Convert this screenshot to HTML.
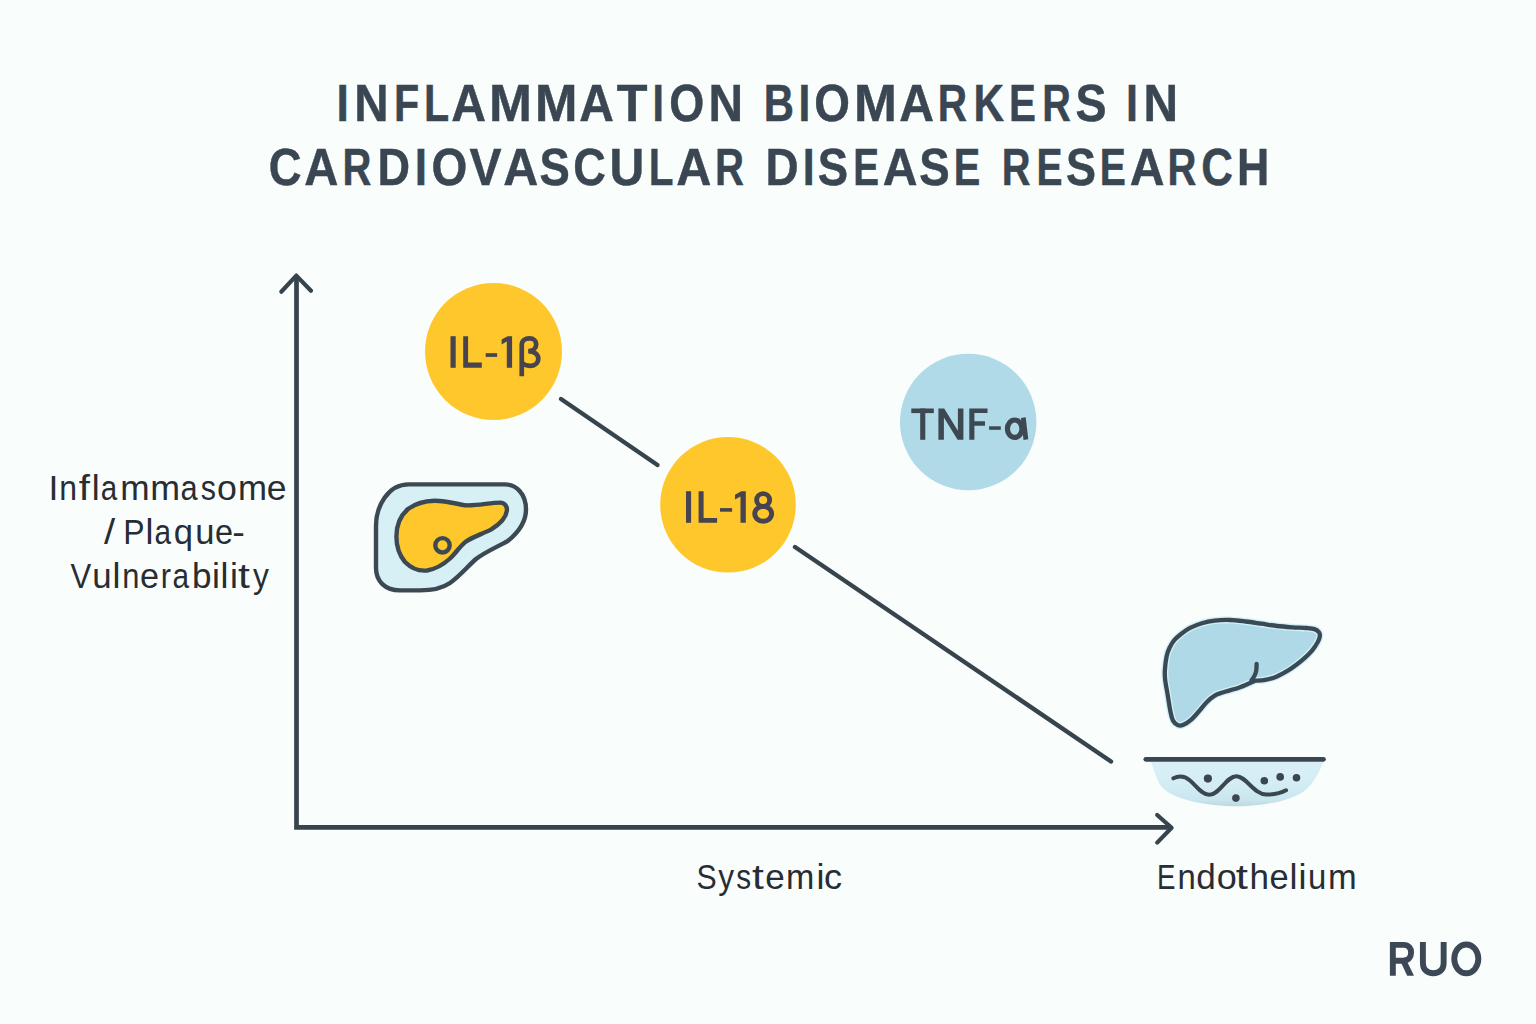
<!DOCTYPE html>
<html>
<head>
<meta charset="utf-8">
<style>
html,body{margin:0;padding:0;background:#F9FDFC;}
body{width:1536px;height:1024px;overflow:hidden;}
svg{display:block;}
text{font-family:"Liberation Sans",sans-serif;}
</style>
</head>
<body>
<svg width="1536" height="1024" viewBox="0 0 1536 1024">
  <rect x="0" y="0" width="1536" height="1024" fill="#F9FDFC"/>

  <!-- Axes -->
  <g stroke="#37434D" fill="none">
    <path d="M296.5 277 L296.5 827.4 L1170 827.4" stroke-width="4.7" stroke-linejoin="miter" stroke-linecap="butt"/>
    <path d="M281.3 291.8 L296.3 275.6 L311 290.8" stroke-width="4.2" stroke-linecap="round" stroke-linejoin="round"/>
    <path d="M1157.2 815 L1171.6 827.8 L1157.2 842.6" stroke-width="4.2" stroke-linecap="round" stroke-linejoin="round"/>
  </g>

  <!-- connecting lines -->
  <g stroke="#37434D" stroke-width="4.4" stroke-linecap="round">
    <line x1="561" y1="399" x2="657.5" y2="465"/>
    <line x1="795" y1="547" x2="1111" y2="761.5"/>
  </g>

  <!-- circles -->
  <circle cx="493.5" cy="351.5" r="68.5" fill="#FEC82C"/>
  <circle cx="728" cy="504.8" r="67.8" fill="#FEC82C"/>
  <circle cx="968.2" cy="422" r="68.2" fill="#B0DAE7"/>

  <!-- circle labels (drawn glyphs) -->
  <g fill="#47434F">
    <rect x="450.5" y="336.2" width="5.2" height="31.6"/>
    <path d="M463.2 336.2 H468.1 V362.6 H481.8 V367.8 H463.2 Z"/>
    <rect x="485.7" y="353.2" width="11.4" height="3.7"/>
    <path d="M512.1 336.2 V367.8 H506.8 V341.6 L501.6 344.5 V339.6 L507.6 336.2 Z"/>
  </g>
  <path fill="none" stroke="#47434F" stroke-width="4.7" d="M521.75 376.3 V345 C521.75 340.5 525 338.45 529.5 338.45 C533.8 338.45 536.2 341 536.2 344.2 C536.2 348.2 533 351.2 528.2 351.2 C534.5 351.2 538.3 354.5 538.3 358.5 C538.3 363 534.5 365.8 530 365.8 C526.5 365.8 523.5 364.5 521.75 362.5"/>
  <g fill="#47434F">
    <rect x="686" y="491.2" width="5.1" height="31.6"/>
    <path d="M698.6 491.2 H703.6 V517.9 H717.1 V522.8 H698.6 Z"/>
    <rect x="720" y="508.1" width="12.1" height="3.6"/>
    <path d="M745.8 491.2 V522.8 H740.5 V496.4 L735 499.4 V494.8 L741.2 491.2 Z"/>
  </g>
  <g fill="none" stroke="#47434F" stroke-width="4.9">
    <ellipse cx="763.15" cy="500" rx="6.5" ry="6.35"/>
    <ellipse cx="763.2" cy="513.8" rx="8.45" ry="7.45"/>
  </g>
  <g fill="#3D4853">
    <rect x="911.3" y="408.5" width="22.5" height="4.6"/>
    <rect x="920.2" y="408.5" width="5.1" height="31.3"/>
    <path d="M938.4 439.8 V408.5 H944.2 L957.9 430.8 V408.5 H963.4 V439.8 H957.6 L943.9 417.5 V439.8 Z"/>
    <path d="M969.3 408.5 H987.5 V413.1 H974.4 V421.2 H985 V425.8 H974.4 V439.8 H969.3 Z"/>
    <rect x="989.1" y="426.3" width="11.7" height="3.5"/>
  </g>
  <g fill="none" stroke="#3D4853">
    <ellipse cx="1014.7" cy="428.7" rx="7.3" ry="8.7" stroke-width="5.2"/>
    <line x1="1023.3" y1="417.6" x2="1025.9" y2="439.6" stroke-width="4.8"/>
  </g>

  <!-- RUO -->
  <g fill="none" stroke="#3C4856" stroke-width="5.9">
    <path d="M1392.85 975.8 V944.85 H1403.5 C1409 944.85 1411.1 948.5 1411.1 952.6 C1411.1 957 1408.5 960.75 1403 960.75 H1393"/>
    <path d="M1422.9 941.9 V963 C1422.9 969.8 1427.2 973.25 1433.3 973.25 C1439.4 973.25 1443.65 969.8 1443.65 963 V941.9"/>
    <ellipse cx="1466.3" cy="958.85" rx="12.05" ry="14.4"/>
  </g>
  <path fill="#3C4856" d="M1400.3 961 H1406.8 L1414 975.8 H1407.2 Z"/>

  <g font-weight="bold" fill="#3A4652" stroke="#3A4652" stroke-width="0.45">
    <text x="336.61" y="120.5" font-size="51.5" textLength="12.34" lengthAdjust="spacingAndGlyphs">I</text>
    <text x="354.33" y="120.5" font-size="51.5" textLength="34.32" lengthAdjust="spacingAndGlyphs">N</text>
    <text x="394.0" y="120.5" font-size="51.5" textLength="25.18" lengthAdjust="spacingAndGlyphs">F</text>
    <text x="423.9" y="120.5" font-size="51.5" textLength="25.17" lengthAdjust="spacingAndGlyphs">L</text>
    <text x="451.37" y="120.5" font-size="51.5" textLength="34.76" lengthAdjust="spacingAndGlyphs">A</text>
    <text x="488.9" y="120.5" font-size="51.5" textLength="42.91" lengthAdjust="spacingAndGlyphs">M</text>
    <text x="534.93" y="120.5" font-size="51.5" textLength="42.43" lengthAdjust="spacingAndGlyphs">M</text>
    <text x="579.27" y="120.5" font-size="51.5" textLength="34.65" lengthAdjust="spacingAndGlyphs">A</text>
    <text x="616.82" y="120.5" font-size="51.5" textLength="30.73" lengthAdjust="spacingAndGlyphs">T</text>
    <text x="652.5" y="120.5" font-size="51.5" textLength="11.45" lengthAdjust="spacingAndGlyphs">I</text>
    <text x="669.25" y="120.5" font-size="51.5" textLength="35.05" lengthAdjust="spacingAndGlyphs">O</text>
    <text x="708.61" y="120.5" font-size="51.5" textLength="34.56" lengthAdjust="spacingAndGlyphs">N</text>
    <text x="763.76" y="120.5" font-size="51.5" textLength="30.23" lengthAdjust="spacingAndGlyphs">B</text>
    <text x="798.62" y="120.5" font-size="51.5" textLength="11.81" lengthAdjust="spacingAndGlyphs">I</text>
    <text x="814.22" y="120.5" font-size="51.5" textLength="35.72" lengthAdjust="spacingAndGlyphs">O</text>
    <text x="854.0" y="120.5" font-size="51.5" textLength="42.91" lengthAdjust="spacingAndGlyphs">M</text>
    <text x="899.17" y="120.5" font-size="51.5" textLength="34.76" lengthAdjust="spacingAndGlyphs">A</text>
    <text x="937.64" y="120.5" font-size="51.5" textLength="29.31" lengthAdjust="spacingAndGlyphs">R</text>
    <text x="973.54" y="120.5" font-size="51.5" textLength="30.55" lengthAdjust="spacingAndGlyphs">K</text>
    <text x="1009.05" y="120.5" font-size="51.5" textLength="26.9" lengthAdjust="spacingAndGlyphs">E</text>
    <text x="1042.29" y="120.5" font-size="51.5" textLength="28.64" lengthAdjust="spacingAndGlyphs">R</text>
    <text x="1075.39" y="120.5" font-size="51.5" textLength="31.04" lengthAdjust="spacingAndGlyphs">S</text>
    <text x="1126.09" y="120.5" font-size="51.5" textLength="11.99" lengthAdjust="spacingAndGlyphs">I</text>
    <text x="1143.51" y="120.5" font-size="51.5" textLength="34.56" lengthAdjust="spacingAndGlyphs">N</text>
    <text x="268.75" y="185.2" font-size="52" textLength="32.81" lengthAdjust="spacingAndGlyphs">C</text>
    <text x="304.19" y="185.2" font-size="52" textLength="34.13" lengthAdjust="spacingAndGlyphs">A</text>
    <text x="342.39" y="185.2" font-size="52" textLength="28.91" lengthAdjust="spacingAndGlyphs">R</text>
    <text x="377.5" y="185.2" font-size="52" textLength="32.52" lengthAdjust="spacingAndGlyphs">D</text>
    <text x="414.65" y="185.2" font-size="52" textLength="12.29" lengthAdjust="spacingAndGlyphs">I</text>
    <text x="431.43" y="185.2" font-size="52" textLength="35.85" lengthAdjust="spacingAndGlyphs">O</text>
    <text x="469.38" y="185.2" font-size="52" textLength="32.06" lengthAdjust="spacingAndGlyphs">V</text>
    <text x="503.17" y="185.2" font-size="52" textLength="34.99" lengthAdjust="spacingAndGlyphs">A</text>
    <text x="539.45" y="185.2" font-size="52" textLength="30.32" lengthAdjust="spacingAndGlyphs">S</text>
    <text x="573.36" y="185.2" font-size="52" textLength="32.59" lengthAdjust="spacingAndGlyphs">C</text>
    <text x="609.62" y="185.2" font-size="52" textLength="34.78" lengthAdjust="spacingAndGlyphs">U</text>
    <text x="648.77" y="185.2" font-size="52" textLength="24.71" lengthAdjust="spacingAndGlyphs">L</text>
    <text x="676.37" y="185.2" font-size="52" textLength="35.09" lengthAdjust="spacingAndGlyphs">A</text>
    <text x="714.88" y="185.2" font-size="52" textLength="29.03" lengthAdjust="spacingAndGlyphs">R</text>
    <text x="765.46" y="185.2" font-size="52" textLength="33.1" lengthAdjust="spacingAndGlyphs">D</text>
    <text x="802.73" y="185.2" font-size="52" textLength="11.92" lengthAdjust="spacingAndGlyphs">I</text>
    <text x="817.85" y="185.2" font-size="52" textLength="30.32" lengthAdjust="spacingAndGlyphs">S</text>
    <text x="853.17" y="185.2" font-size="52" textLength="25.78" lengthAdjust="spacingAndGlyphs">E</text>
    <text x="882.87" y="185.2" font-size="52" textLength="34.77" lengthAdjust="spacingAndGlyphs">A</text>
    <text x="919.35" y="185.2" font-size="52" textLength="30.44" lengthAdjust="spacingAndGlyphs">S</text>
    <text x="953.71" y="185.2" font-size="52" textLength="26.48" lengthAdjust="spacingAndGlyphs">E</text>
    <text x="1001.7" y="185.2" font-size="52" textLength="28.8" lengthAdjust="spacingAndGlyphs">R</text>
    <text x="1036.45" y="185.2" font-size="52" textLength="26.02" lengthAdjust="spacingAndGlyphs">E</text>
    <text x="1066.07" y="185.2" font-size="52" textLength="29.99" lengthAdjust="spacingAndGlyphs">S</text>
    <text x="1099.84" y="185.2" font-size="52" textLength="26.13" lengthAdjust="spacingAndGlyphs">E</text>
    <text x="1129.67" y="185.2" font-size="52" textLength="34.77" lengthAdjust="spacingAndGlyphs">A</text>
    <text x="1167.49" y="185.2" font-size="52" textLength="28.91" lengthAdjust="spacingAndGlyphs">R</text>
    <text x="1201.31" y="185.2" font-size="52" textLength="31.71" lengthAdjust="spacingAndGlyphs">C</text>
    <text x="1236.93" y="185.2" font-size="52" textLength="32.23" lengthAdjust="spacingAndGlyphs">H</text>
  </g>
  <g fill="#282D33">
    <text x="48.55" y="499.7" font-size="35.5" textLength="9.88" lengthAdjust="spacingAndGlyphs">I</text>
    <text x="59.3" y="499.7" font-size="35.5" textLength="17.77" lengthAdjust="spacingAndGlyphs">n</text>
    <text x="78.87" y="499.7" font-size="35.5" textLength="11.19" lengthAdjust="spacingAndGlyphs">f</text>
    <text x="91.65" y="499.7" font-size="35.5" textLength="7.89" lengthAdjust="spacingAndGlyphs">l</text>
    <text x="100.73" y="499.7" font-size="35.5" textLength="16.46" lengthAdjust="spacingAndGlyphs">a</text>
    <text x="120.32" y="499.7" font-size="35.5" textLength="29.34" lengthAdjust="spacingAndGlyphs">m</text>
    <text x="150.38" y="499.7" font-size="35.5" textLength="29.81" lengthAdjust="spacingAndGlyphs">m</text>
    <text x="180.57" y="499.7" font-size="35.5" textLength="17.12" lengthAdjust="spacingAndGlyphs">a</text>
    <text x="200.74" y="499.7" font-size="35.5" textLength="15.2" lengthAdjust="spacingAndGlyphs">s</text>
    <text x="217.09" y="499.7" font-size="35.5" textLength="19.87" lengthAdjust="spacingAndGlyphs">o</text>
    <text x="237.94" y="499.7" font-size="35.5" textLength="28.99" lengthAdjust="spacingAndGlyphs">m</text>
    <text x="266.7" y="499.7" font-size="35.5" textLength="19.75" lengthAdjust="spacingAndGlyphs">e</text>
    <text x="104.1" y="543.7" font-size="35.5" textLength="11.16" lengthAdjust="spacingAndGlyphs">/</text>
    <text x="123.2" y="543.7" font-size="35.5" textLength="21.32" lengthAdjust="spacingAndGlyphs">P</text>
    <text x="145.45" y="543.7" font-size="35.5" textLength="7.89" lengthAdjust="spacingAndGlyphs">l</text>
    <text x="154.52" y="543.7" font-size="35.5" textLength="16.57" lengthAdjust="spacingAndGlyphs">a</text>
    <text x="173.75" y="543.7" font-size="35.5" textLength="19.26" lengthAdjust="spacingAndGlyphs">q</text>
    <text x="195.25" y="543.7" font-size="35.5" textLength="19.22" lengthAdjust="spacingAndGlyphs">u</text>
    <text x="214.88" y="543.7" font-size="35.5" textLength="18.02" lengthAdjust="spacingAndGlyphs">e</text>
    <text x="232.18" y="543.7" font-size="35.5" textLength="12.57" lengthAdjust="spacingAndGlyphs">-</text>
    <text x="70.5" y="587.9" font-size="35.5" textLength="20.7" lengthAdjust="spacingAndGlyphs">V</text>
    <text x="92.14" y="587.9" font-size="35.5" textLength="19.36" lengthAdjust="spacingAndGlyphs">u</text>
    <text x="112.5" y="587.9" font-size="35.5" textLength="7.89" lengthAdjust="spacingAndGlyphs">l</text>
    <text x="122.16" y="587.9" font-size="35.5" textLength="17.16" lengthAdjust="spacingAndGlyphs">n</text>
    <text x="139.88" y="587.9" font-size="35.5" textLength="19.01" lengthAdjust="spacingAndGlyphs">e</text>
    <text x="160.87" y="587.9" font-size="35.5" textLength="10.25" lengthAdjust="spacingAndGlyphs">r</text>
    <text x="172.62" y="587.9" font-size="35.5" textLength="16.57" lengthAdjust="spacingAndGlyphs">a</text>
    <text x="192.03" y="587.9" font-size="35.5" textLength="19.5" lengthAdjust="spacingAndGlyphs">b</text>
    <text x="212.05" y="587.9" font-size="35.5" textLength="7.89" lengthAdjust="spacingAndGlyphs">i</text>
    <text x="220.45" y="587.9" font-size="35.5" textLength="7.89" lengthAdjust="spacingAndGlyphs">l</text>
    <text x="229.95" y="587.9" font-size="35.5" textLength="7.89" lengthAdjust="spacingAndGlyphs">i</text>
    <text x="237.9" y="587.9" font-size="35.5" textLength="11.85" lengthAdjust="spacingAndGlyphs">t</text>
    <text x="253.1" y="587.9" font-size="35.5" textLength="15.88" lengthAdjust="spacingAndGlyphs">y</text>
    <text x="696.51" y="888.9" font-size="35.8" textLength="20.19" lengthAdjust="spacingAndGlyphs">S</text>
    <text x="718.2" y="888.9" font-size="35.8" textLength="15.82" lengthAdjust="spacingAndGlyphs">y</text>
    <text x="736.37" y="888.9" font-size="35.8" textLength="14.88" lengthAdjust="spacingAndGlyphs">s</text>
    <text x="751.91" y="888.9" font-size="35.8" textLength="11.83" lengthAdjust="spacingAndGlyphs">t</text>
    <text x="765.14" y="888.9" font-size="35.8" textLength="19.49" lengthAdjust="spacingAndGlyphs">e</text>
    <text x="786.1" y="888.9" font-size="35.8" textLength="28.34" lengthAdjust="spacingAndGlyphs">m</text>
    <text x="816.5" y="888.9" font-size="35.8" textLength="7.95" lengthAdjust="spacingAndGlyphs">i</text>
    <text x="823.99" y="888.9" font-size="35.8" textLength="18.03" lengthAdjust="spacingAndGlyphs">c</text>
    <text x="1157.08" y="889.1" font-size="35.8" textLength="18.48" lengthAdjust="spacingAndGlyphs">E</text>
    <text x="1177.46" y="889.1" font-size="35.8" textLength="18.3" lengthAdjust="spacingAndGlyphs">n</text>
    <text x="1196.14" y="889.1" font-size="35.8" textLength="19.55" lengthAdjust="spacingAndGlyphs">d</text>
    <text x="1216.89" y="889.1" font-size="35.8" textLength="20.05" lengthAdjust="spacingAndGlyphs">o</text>
    <text x="1235.78" y="889.1" font-size="35.8" textLength="12.16" lengthAdjust="spacingAndGlyphs">t</text>
    <text x="1249.56" y="889.1" font-size="35.8" textLength="19.52" lengthAdjust="spacingAndGlyphs">h</text>
    <text x="1269.58" y="889.1" font-size="35.8" textLength="19.17" lengthAdjust="spacingAndGlyphs">e</text>
    <text x="1289.5" y="889.1" font-size="35.8" textLength="7.95" lengthAdjust="spacingAndGlyphs">l</text>
    <text x="1298.55" y="889.1" font-size="35.8" textLength="7.95" lengthAdjust="spacingAndGlyphs">i</text>
    <text x="1307.96" y="889.1" font-size="35.8" textLength="18.3" lengthAdjust="spacingAndGlyphs">u</text>
    <text x="1327.98" y="889.1" font-size="35.8" textLength="28.68" lengthAdjust="spacingAndGlyphs">m</text>
  </g>
  <!-- plaque icon -->
  <g stroke="#3C4952" stroke-width="4.4" stroke-linejoin="round">
    <path fill="#D6F0F6" d="M408.7 484.4 L505 484.4 C516 484.4 526 493.5 526 509.5 C526 521 520 531 508 540.8 C497 547 485 552 476 559 C468 566 460 576 450 583 C442 588.5 432 590.4 420 590.4 L400 590.4 C385 590.4 376 581 376 568 L376 526 C376 506 388 484.4 408.7 484.4 Z"/>
    <path fill="#FEC82C" d="M396.4 536.6 C396.4 524 401 515 408 509 C415 504 424 501 434.4 500.8 C445 500.6 455 503.5 465.2 505.3 C477 506 490 502.6 500.3 502.6 C505 502.6 507.5 507 506.8 511 C506 518 500 524 490.9 529.6 C482 534 472 537.5 466.3 541.3 C460 546 456 553 450 558.5 C444 564 436 569 427 570.5 C418 571.5 410 567 405 562 C399 555 396.4 546 396.4 536.6 Z"/>
    <circle cx="442.5" cy="545.3" r="7.2" fill="#FEC82C"/>
  </g>

  <!-- liver -->
  <g stroke="#3A4A55" stroke-width="4.3" stroke-linejoin="round" stroke-linecap="round">
    <path fill="#AFD9E6" stroke="#D3EFF7" stroke-width="7" d="M1255 680.7 C1252.5 681.8 1245.42 685.33 1240 687.3 C1234.58 689.27 1226.72 691.12 1222.5 692.5 C1218.28 693.88 1217.3 694.03 1214.7 695.6 C1212.1 697.17 1209.52 699.29 1206.9 701.9 C1204.28 704.51 1201.61 708.3 1199 711.25 C1196.39 714.2 1193.85 717.34 1191.25 719.6 C1188.65 721.86 1185.58 723.85 1183.4 724.8 C1181.23 725.75 1179.93 726 1178.2 725.3 C1176.47 724.6 1174.3 722.94 1173 720.6 C1171.7 718.26 1171.27 715.42 1170.4 711.25 C1169.53 707.08 1168.67 700.81 1167.8 695.6 C1166.93 690.39 1165.68 684.27 1165.2 680 C1164.72 675.73 1164.65 674 1164.9 670 C1165.15 666 1165.92 659.7 1166.7 656 C1167.48 652.3 1168.33 650.43 1169.6 647.8 C1170.87 645.17 1172.33 642.55 1174.3 640.2 C1176.27 637.85 1178.77 635.75 1181.4 633.7 C1184.03 631.65 1186.68 629.65 1190.1 627.9 C1193.52 626.15 1197.78 624.42 1201.9 623.2 C1206.02 621.98 1210.12 621.13 1214.8 620.6 C1219.48 620.07 1224.87 619.85 1230 620 C1235.13 620.15 1240.39 620.88 1245.6 621.5 C1250.81 622.12 1256.03 622.95 1261.25 623.7 C1266.47 624.45 1271.69 625.4 1276.9 626 C1282.11 626.6 1287.65 626.97 1292.5 627.3 C1297.35 627.63 1302.35 627.7 1306 628 C1309.65 628.3 1312.23 628.38 1314.4 629.1 C1316.57 629.82 1318.1 631.1 1319 632.3 C1319.9 633.5 1320 634.68 1319.8 636.3 C1319.6 637.92 1319.1 639.62 1317.8 642 C1316.5 644.38 1314.27 647.87 1312 650.6 C1309.73 653.33 1306.8 656.05 1304.2 658.4 C1301.6 660.75 1299 662.73 1296.4 664.7 C1293.8 666.67 1291.85 668.25 1288.6 670.2 C1285.35 672.15 1280.8 674.78 1276.9 676.4 C1273 678.02 1268.85 679.18 1265.2 679.9 C1261.55 680.62 1256.7 680.57 1255 680.7 Z"/>
    <path fill="none" d="M1255 680.7 C1252.5 681.8 1245.42 685.33 1240 687.3 C1234.58 689.27 1226.72 691.12 1222.5 692.5 C1218.28 693.88 1217.3 694.03 1214.7 695.6 C1212.1 697.17 1209.52 699.29 1206.9 701.9 C1204.28 704.51 1201.61 708.3 1199 711.25 C1196.39 714.2 1193.85 717.34 1191.25 719.6 C1188.65 721.86 1185.58 723.85 1183.4 724.8 C1181.23 725.75 1179.93 726 1178.2 725.3 C1176.47 724.6 1174.3 722.94 1173 720.6 C1171.7 718.26 1171.27 715.42 1170.4 711.25 C1169.53 707.08 1168.67 700.81 1167.8 695.6 C1166.93 690.39 1165.68 684.27 1165.2 680 C1164.72 675.73 1164.65 674 1164.9 670 C1165.15 666 1165.92 659.7 1166.7 656 C1167.48 652.3 1168.33 650.43 1169.6 647.8 C1170.87 645.17 1172.33 642.55 1174.3 640.2 C1176.27 637.85 1178.77 635.75 1181.4 633.7 C1184.03 631.65 1186.68 629.65 1190.1 627.9 C1193.52 626.15 1197.78 624.42 1201.9 623.2 C1206.02 621.98 1210.12 621.13 1214.8 620.6 C1219.48 620.07 1224.87 619.85 1230 620 C1235.13 620.15 1240.39 620.88 1245.6 621.5 C1250.81 622.12 1256.03 622.95 1261.25 623.7 C1266.47 624.45 1271.69 625.4 1276.9 626 C1282.11 626.6 1287.65 626.97 1292.5 627.3 C1297.35 627.63 1302.35 627.7 1306 628 C1309.65 628.3 1312.23 628.38 1314.4 629.1 C1316.57 629.82 1318.1 631.1 1319 632.3 C1319.9 633.5 1320 634.68 1319.8 636.3 C1319.6 637.92 1319.1 639.62 1317.8 642 C1316.5 644.38 1314.27 647.87 1312 650.6 C1309.73 653.33 1306.8 656.05 1304.2 658.4 C1301.6 660.75 1299 662.73 1296.4 664.7 C1293.8 666.67 1291.85 668.25 1288.6 670.2 C1285.35 672.15 1280.8 674.78 1276.9 676.4 C1273 678.02 1268.85 679.18 1265.2 679.9 C1261.55 680.62 1256.7 680.57 1255 680.7 Z"/>
    <path fill="none" d="M1256.6 663.9 C1256.53 665.07 1256.6 668.82 1256.2 670.9 C1255.8 672.98 1255.02 674.78 1254.2 676.4 C1253.38 678.02 1251.78 679.9 1251.3 680.6"/>
  </g>

  <!-- endothelium -->
  <defs>
    <linearGradient id="bowl" gradientUnits="userSpaceOnUse" x1="0" y1="761" x2="0" y2="807">
      <stop offset="0" stop-color="#DAF0F6"/>
      <stop offset="0.55" stop-color="#D3ECF4"/>
      <stop offset="0.85" stop-color="#C9E5EE"/>
      <stop offset="1" stop-color="#BAD8E0"/>
    </linearGradient>
  </defs>
  <path fill="url(#bowl)" d="M1147.5 761.5 C1148.1 761.65 1149.67 759.98 1151.1 762.4 C1152.53 764.82 1154.45 772.08 1156.1 776 C1157.75 779.92 1158.32 782.8 1161 785.9 C1163.68 789 1167.45 792.12 1172.2 794.6 C1176.95 797.08 1182.5 799.05 1189.5 800.8 C1196.5 802.55 1206.37 804.18 1214.2 805.1 C1222.03 806.02 1229.28 806.3 1236.5 806.3 C1243.72 806.3 1249.87 806.02 1257.5 805.1 C1265.13 804.18 1275.08 802.77 1282.3 800.8 C1289.52 798.83 1296.07 795.98 1300.8 793.3 C1305.53 790.62 1307.82 787.98 1310.7 784.7 C1313.58 781.42 1316.03 777.32 1318.1 773.6 C1320.17 769.88 1322.2 764.42 1323.1 762.4 C1324 760.38 1323.43 761.65 1323.5 761.5 Z"/>
  <line x1="1145.8" y1="759.3" x2="1323.5" y2="759.3" stroke="#3A4650" stroke-width="4.7" stroke-linecap="round"/>
  <path fill="none" stroke="#3A4650" stroke-width="4" stroke-linecap="round" d="M1173.4 778.3 C1178 776 1184 775.5 1190 780.5 C1197 786.5 1202 794.8 1209.3 794.8 C1220 794.8 1226 776.2 1236.5 776.2 C1246 776.2 1254 794.6 1266.5 794.6 C1275 794.6 1281 793 1286 790.3"/>
  <g fill="#3A4650">
    <circle cx="1207.9" cy="778.6" r="4.1"/>
    <circle cx="1235.9" cy="798.1" r="3.8"/>
    <circle cx="1264.3" cy="780.8" r="3.8"/>
    <circle cx="1280.2" cy="776.9" r="3.8"/>
    <circle cx="1296.5" cy="777.8" r="3.8"/>
  </g>
</svg>
</body>
</html>
